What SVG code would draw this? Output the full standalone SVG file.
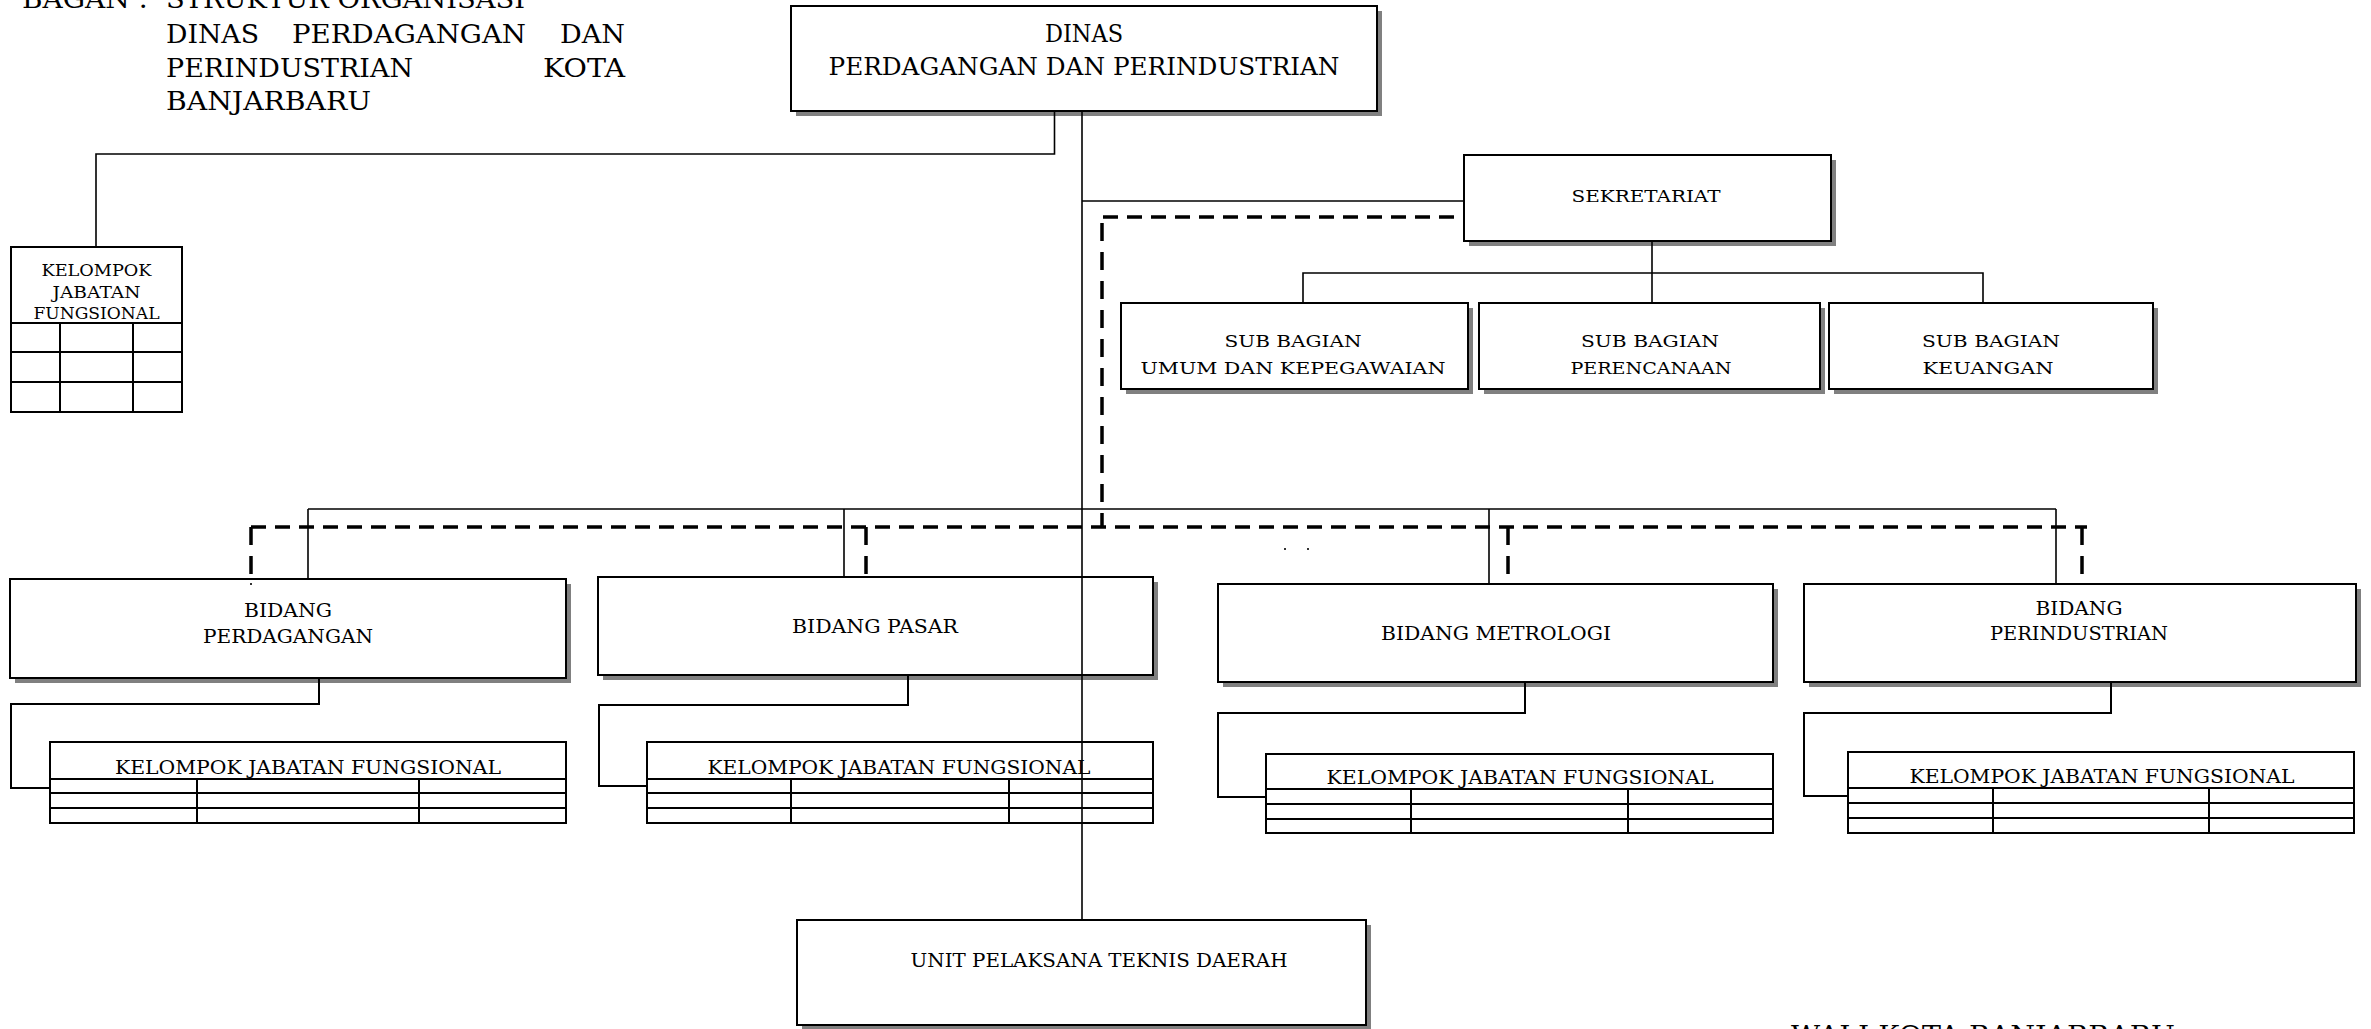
<svg xmlns="http://www.w3.org/2000/svg" width="2371" height="1029" viewBox="0 0 2371 1029">
<style>
.bg{fill:#fff}
.box{fill:#fff;stroke:#000;stroke-width:2}
.sh{fill:#808080}
.ln{fill:none;stroke:#000;stroke-width:1.6}
.ln2{fill:none;stroke:#000;stroke-width:2}
.dh{fill:none;stroke:#000;stroke-width:3.5;stroke-dasharray:15 9}
.dv{fill:none;stroke:#000;stroke-width:3.5;stroke-dasharray:18 11}
.t{font-family:"DejaVu Serif","Liberation Serif",serif;fill:#000;text-anchor:middle}
.ts{font-family:"DejaVu Serif","Liberation Serif",serif;fill:#000}
</style>
<rect class="bg" x="0" y="0" width="2371" height="1029"/>

<g id="title">
<text class="ts" x="22" y="8" font-size="26" textLength="126" lengthAdjust="spacingAndGlyphs">BAGAN :</text>
<text class="ts" x="166" y="8" font-size="26" textLength="359" lengthAdjust="spacingAndGlyphs">STRUKTUR ORGANISASI</text>
<text class="ts" x="166" y="43" font-size="26" textLength="93" lengthAdjust="spacingAndGlyphs">DINAS</text>
<text class="ts" x="292" y="43" font-size="26" textLength="234" lengthAdjust="spacingAndGlyphs">PERDAGANGAN</text>
<text class="ts" x="560" y="43" font-size="26" textLength="65" lengthAdjust="spacingAndGlyphs">DAN</text>
<text class="ts" x="166" y="77" font-size="26" textLength="247" lengthAdjust="spacingAndGlyphs">PERINDUSTRIAN</text>
<text class="ts" x="543" y="77" font-size="26" textLength="82" lengthAdjust="spacingAndGlyphs">KOTA</text>
<text class="ts" x="166" y="110" font-size="26" textLength="205" lengthAdjust="spacingAndGlyphs">BANJARBARU</text>
</g>

<g id="dinas">
<rect class="sh" x="796" y="11" width="586" height="105"/>
<rect class="box" x="791" y="6" width="586" height="105"/>
<text class="t" x="1084" y="42" font-size="25" textLength="78" lengthAdjust="spacingAndGlyphs">DINAS</text>
<text class="t" x="1084" y="75" font-size="25" textLength="511" lengthAdjust="spacingAndGlyphs">PERDAGANGAN DAN PERINDUSTRIAN</text>
</g>

<g id="kelompok-jf">
<rect class="box" x="11" y="247" width="171" height="165"/>
<line class="ln2" x1="11" y1="323" x2="182" y2="323"/>
<line class="ln2" x1="11" y1="352" x2="182" y2="352"/>
<line class="ln2" x1="11" y1="382" x2="182" y2="382"/>
<line class="ln2" x1="60" y1="323" x2="60" y2="412"/>
<line class="ln2" x1="133" y1="323" x2="133" y2="412"/>
<text class="t" x="96.5" y="276" font-size="16" textLength="110" lengthAdjust="spacingAndGlyphs">KELOMPOK</text>
<text class="t" x="96.5" y="298" font-size="16" textLength="88" lengthAdjust="spacingAndGlyphs">JABATAN</text>
<text class="t" x="96.5" y="319" font-size="16" textLength="126" lengthAdjust="spacingAndGlyphs">FUNGSIONAL</text>
</g>

<g id="sekretariat">
<rect class="sh" x="1469" y="160" width="367" height="86"/>
<rect class="box" x="1464" y="155" width="367" height="86"/>
<text class="t" x="1646" y="202" font-size="16" textLength="149" lengthAdjust="spacingAndGlyphs">SEKRETARIAT</text>
</g>

<g id="sub-umum">
<rect class="sh" x="1126" y="308" width="347" height="86"/>
<rect class="box" x="1121" y="303" width="347" height="86"/>
<text class="t" x="1293" y="347" font-size="17" textLength="137" lengthAdjust="spacingAndGlyphs">SUB BAGIAN</text>
<text class="t" x="1293" y="374" font-size="17" textLength="305" lengthAdjust="spacingAndGlyphs">UMUM DAN KEPEGAWAIAN</text>
</g>

<g id="sub-perencanaan">
<rect class="sh" x="1484" y="308" width="341" height="86"/>
<rect class="box" x="1479" y="303" width="341" height="86"/>
<text class="t" x="1650" y="347" font-size="17" textLength="138" lengthAdjust="spacingAndGlyphs">SUB BAGIAN</text>
<text class="t" x="1651" y="374" font-size="17" textLength="161" lengthAdjust="spacingAndGlyphs">PERENCANAAN</text>
</g>

<g id="sub-keuangan">
<rect class="sh" x="1834" y="308" width="324" height="86"/>
<rect class="box" x="1829" y="303" width="324" height="86"/>
<text class="t" x="1991" y="347" font-size="17" textLength="138" lengthAdjust="spacingAndGlyphs">SUB BAGIAN</text>
<text class="t" x="1988" y="374" font-size="17" textLength="131" lengthAdjust="spacingAndGlyphs">KEUANGAN</text>
</g>

<g id="bidang-perdagangan">
<rect class="sh" x="15" y="584" width="556" height="99"/>
<rect class="box" x="10" y="579" width="556" height="99"/>
<text class="t" x="288" y="617" font-size="18" textLength="88" lengthAdjust="spacingAndGlyphs">BIDANG</text>
<text class="t" x="288" y="643" font-size="18" textLength="170" lengthAdjust="spacingAndGlyphs">PERDAGANGAN</text>
</g>

<g id="bidang-pasar">
<rect class="sh" x="603" y="582" width="555" height="98"/>
<rect class="box" x="598" y="577" width="555" height="98"/>
<text class="t" x="875" y="633" font-size="18" textLength="166" lengthAdjust="spacingAndGlyphs">BIDANG PASAR</text>
</g>

<g id="bidang-metrologi">
<rect class="sh" x="1223" y="589" width="555" height="98"/>
<rect class="box" x="1218" y="584" width="555" height="98"/>
<text class="t" x="1496" y="640" font-size="18" textLength="230" lengthAdjust="spacingAndGlyphs">BIDANG METROLOGI</text>
</g>

<g id="bidang-perindustrian">
<rect class="sh" x="1809" y="589" width="552" height="98"/>
<rect class="box" x="1804" y="584" width="552" height="98"/>
<text class="t" x="2079" y="615" font-size="18" textLength="87" lengthAdjust="spacingAndGlyphs">BIDANG</text>
<text class="t" x="2079" y="640" font-size="18" textLength="178" lengthAdjust="spacingAndGlyphs">PERINDUSTRIAN</text>
</g>

<g id="jf-perdagangan">
<rect class="box" x="50" y="742" width="516" height="81"/>
<line class="ln2" x1="50" y1="779" x2="566" y2="779"/>
<line class="ln2" x1="50" y1="793" x2="566" y2="793"/>
<line class="ln2" x1="50" y1="808" x2="566" y2="808"/>
<line class="ln2" x1="197" y1="779" x2="197" y2="823"/>
<line class="ln2" x1="419" y1="779" x2="419" y2="823"/>
<text class="t" x="308" y="774" font-size="18" textLength="386" lengthAdjust="spacingAndGlyphs">KELOMPOK JABATAN FUNGSIONAL</text>
</g>

<g id="jf-pasar">
<rect class="box" x="647" y="742" width="506" height="81"/>
<line class="ln2" x1="647" y1="779" x2="1153" y2="779"/>
<line class="ln2" x1="647" y1="793" x2="1153" y2="793"/>
<line class="ln2" x1="647" y1="808" x2="1153" y2="808"/>
<line class="ln2" x1="791" y1="779" x2="791" y2="823"/>
<line class="ln2" x1="1009" y1="779" x2="1009" y2="823"/>
<text class="t" x="899" y="774" font-size="18" textLength="383" lengthAdjust="spacingAndGlyphs">KELOMPOK JABATAN FUNGSIONAL</text>
</g>

<g id="jf-metrologi">
<rect class="box" x="1266" y="754" width="507" height="79"/>
<line class="ln2" x1="1266" y1="789" x2="1773" y2="789"/>
<line class="ln2" x1="1266" y1="804" x2="1773" y2="804"/>
<line class="ln2" x1="1266" y1="819" x2="1773" y2="819"/>
<line class="ln2" x1="1411" y1="789" x2="1411" y2="833"/>
<line class="ln2" x1="1628" y1="789" x2="1628" y2="833"/>
<text class="t" x="1520" y="784" font-size="18" textLength="387" lengthAdjust="spacingAndGlyphs">KELOMPOK JABATAN FUNGSIONAL</text>
</g>

<g id="jf-perindustrian">
<rect class="box" x="1848" y="752" width="506" height="81"/>
<line class="ln2" x1="1848" y1="788" x2="2354" y2="788"/>
<line class="ln2" x1="1848" y1="803" x2="2354" y2="803"/>
<line class="ln2" x1="1848" y1="818" x2="2354" y2="818"/>
<line class="ln2" x1="1993" y1="788" x2="1993" y2="833"/>
<line class="ln2" x1="2209" y1="788" x2="2209" y2="833"/>
<text class="t" x="2102" y="783" font-size="18" textLength="385" lengthAdjust="spacingAndGlyphs">KELOMPOK JABATAN FUNGSIONAL</text>
</g>

<g id="upt">
<rect class="sh" x="802" y="925" width="569" height="105"/>
<rect class="box" x="797" y="920" width="569" height="105"/>
<text class="t" x="1099" y="967" font-size="19" textLength="377" lengthAdjust="spacingAndGlyphs">UNIT PELAKSANA TEKNIS DAERAH</text>
</g>

<g id="signature">
<text class="ts" x="1791" y="1044" font-size="26" textLength="384" lengthAdjust="spacingAndGlyphs">WALI KOTA BANJARBARU</text>
</g>

<g id="connectors">
<polyline class="ln" points="1054.5,111 1054.5,154 96,154 96,247"/>
<line class="ln" x1="1082" y1="111" x2="1082" y2="920"/>
<line class="ln" x1="1082" y1="201" x2="1464" y2="201"/>
<line class="ln" x1="1652" y1="241" x2="1652" y2="303"/>
<polyline class="ln" points="1303,303 1303,273 1983,273 1983,303"/>
<line class="ln" x1="308" y1="509" x2="2056" y2="509"/>
<line class="ln" x1="308" y1="509" x2="308" y2="579"/>
<line class="ln" x1="844" y1="509" x2="844" y2="577"/>
<line class="ln" x1="1489" y1="509" x2="1489" y2="584"/>
<line class="ln" x1="2056" y1="509" x2="2056" y2="584"/>
<polyline class="ln2" points="319,678 319,704 11,704 11,788 50,788"/>
<polyline class="ln2" points="908,675 908,705 599,705 599,786 647,786"/>
<polyline class="ln2" points="1525,682 1525,713 1218,713 1218,797 1266,797"/>
<polyline class="ln2" points="2111,682 2111,713 1804,713 1804,796 1848,796"/>
<polyline class="dh" points="1454,217 1102,217"/>
<line class="dv" x1="1102" y1="223" x2="1102" y2="527"/>
<line class="dh" x1="251" y1="527" x2="2087" y2="527"/>
<line class="dv" x1="251" y1="527" x2="251" y2="579"/>
<line class="dv" x1="866" y1="527" x2="866" y2="577"/>
<line class="dv" x1="1508" y1="527" x2="1508" y2="584"/>
<line class="dv" x1="2082" y1="527" x2="2082" y2="584"/>
<line class="ln" x1="251" y1="583" x2="251" y2="585"/>
<rect x="1284" y="548" width="2" height="2" fill="#333"/>
<rect x="1307" y="548" width="2" height="2" fill="#333"/>
</g>
</svg>
